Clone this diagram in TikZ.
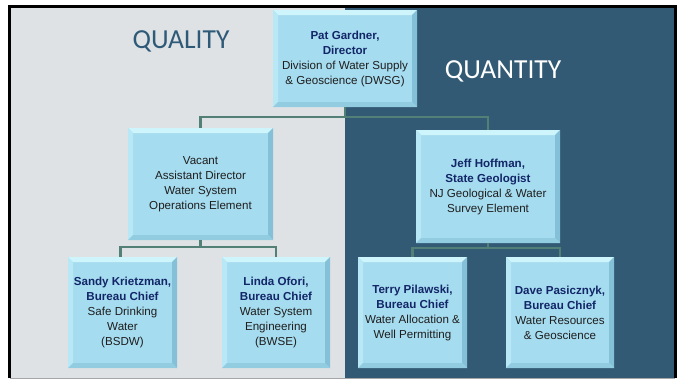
\documentclass[tikz,border=0pt]{standalone}
\usepackage{fontspec}
\setmainfont{Liberation Sans}
\newfontfamily\titlefont{Carlito}
\definecolor{bggray}{RGB}{223,226,229}
\definecolor{bgblue}{RGB}{51,90,116}
\definecolor{boxfill}{RGB}{166,220,239}
\definecolor{bevtop}{RGB}{206,245,252}
\definecolor{bevleft}{RGB}{184,232,246}
\definecolor{bevright}{RGB}{132,192,215}
\definecolor{bevbot}{RGB}{146,204,224}
\definecolor{namecol}{RGB}{18,38,104}
\definecolor{textcol}{RGB}{30,30,30}
\definecolor{linkcol}{RGB}{82,128,118}
\definecolor{qualcol}{RGB}{46,90,120}
\newcommand{\nm}[1]{{\bfseries\color{namecol}#1}}
\begin{document}
\begin{tikzpicture}[x=1pt,y=-1pt,
  orgbox/.style={rectangle, fill=boxfill, inner sep=0pt, align=center,
    font=\fontsize{11.6}{15}\selectfont, text=textcol,
    path picture={
      \fill[bevtop] (path picture bounding box.north west) -- (path picture bounding box.north east)
        -- ([xshift=-5pt,yshift=-5pt]path picture bounding box.north east) -- ([xshift=5pt,yshift=-5pt]path picture bounding box.north west) -- cycle;
      \fill[bevleft] (path picture bounding box.north west) -- ([xshift=5pt,yshift=-5pt]path picture bounding box.north west)
        -- ([xshift=5pt,yshift=5pt]path picture bounding box.south west) -- (path picture bounding box.south west) -- cycle;
      \fill[bevright] (path picture bounding box.north east) -- ([xshift=-5pt,yshift=-5pt]path picture bounding box.north east)
        -- ([xshift=-5pt,yshift=5pt]path picture bounding box.south east) -- (path picture bounding box.south east) -- cycle;
      \fill[bevbot] (path picture bounding box.south west) -- ([xshift=5pt,yshift=5pt]path picture bounding box.south west)
        -- ([xshift=-5pt,yshift=5pt]path picture bounding box.south east) -- (path picture bounding box.south east) -- cycle;
    }},
  link/.style={draw=linkcol, line width=2.2pt},
  bigtitle/.style={font=\titlefont\fontsize{27.5}{32}\selectfont, anchor=base}
]
\useasboundingbox (0,0) rectangle (683,380);
\fill[white] (0,0) rectangle (683,380);
% backgrounds
\fill[bggray] (10,6) rectangle (345,378);
\fill[bgblue] (345,6) rectangle (675,378);
\draw[line width=0.6pt, gray!70] (10,378.3) -- (675,378.3);
\draw[line width=3pt, black] (9.5,378) -- (9.5,6.5) -- (675.5,6.5) -- (675.5,378);

\node[bigtitle, text=qualcol] (qual) at (181,48.5) {QUALITY};
\node[bigtitle, text=white] (quan) at (503,78.5) {QUANTITY};

% boxes
\node[orgbox, minimum width=144pt, minimum height=97pt] (top) at (345,58.5)
  {\nm{Pat Gardner,}\\\nm{Director}\\Division of Water Supply\\\& Geoscience (DWSG)};
\node[orgbox, minimum width=145pt, minimum height=112pt] (qa) at (200.5,184)
  {Vacant\\Assistant Director\\Water System\\Operations Element};
\node[orgbox, minimum width=144pt, minimum height=113pt] (qn) at (488,186.5)
  {\nm{Jeff Hoffman,}\\\nm{State Geologist}\\NJ Geological \& Water\\Survey Element};
\node[orgbox, minimum width=109pt, minimum height=111pt] (sk) at (122.5,312.5)
  {\nm{Sandy Krietzman,}\\\nm{Bureau Chief}\\Safe Drinking\\Water\\(BSDW)};
\node[orgbox, minimum width=108pt, minimum height=111pt] (lo) at (276,312.5)
  {\nm{Linda Ofori,}\\\nm{Bureau Chief}\\Water System\\Engineering\\(BWSE)};
\node[orgbox, minimum width=109pt, minimum height=111pt] (tp) at (412.5,312.5)
  {\nm{Terry Pilawski,}\\\nm{Bureau Chief}\\Water Allocation \&\\Well Permitting};
\node[orgbox, minimum width=108pt, minimum height=111pt] (dp) at (560,312.5)
  {\nm{Dave Pasicznyk,}\\\nm{Bureau Chief}\\Water Resources\\\& Geoscience};

% connectors
\coordinate (j1) at (345,117);
\coordinate (j2) at (200.5,247);
\coordinate (j3) at (488,248);
\draw[link] (top.south) -- (j1);
\draw[link] (j1) -| (qa.north);
\draw[link] (j1) -| (qn.north);
\draw[link] (qa.south) -- (j2);
\draw[link] (j2) -| ([xshift=-2pt]sk.north);
\draw[link] (j2) -| (lo.north);
\draw[link] (qn.south) -- (j3);
\draw[link] (j3) -| (tp.north);
\draw[link] (j3) -| (dp.north);
\end{tikzpicture}
\end{document}
